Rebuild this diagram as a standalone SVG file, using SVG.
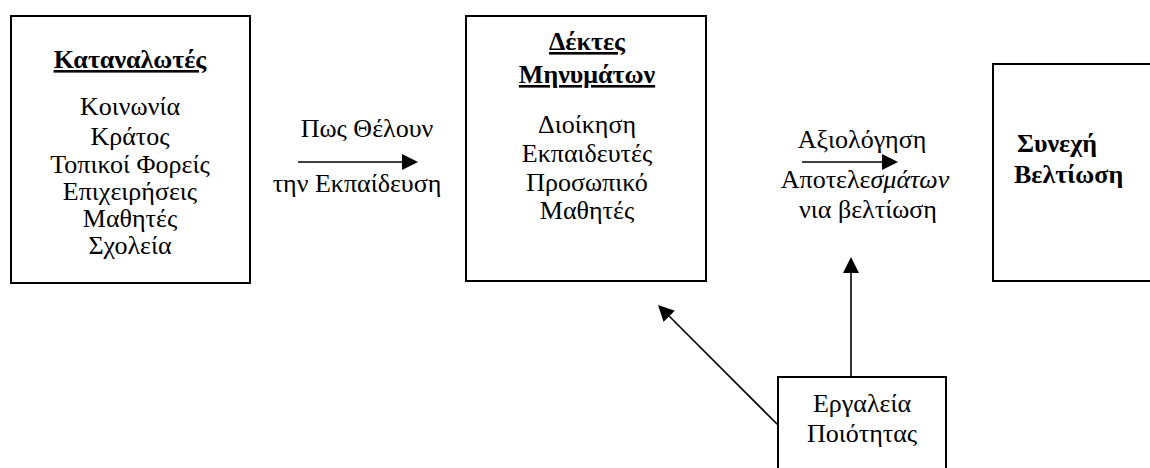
<svg xmlns="http://www.w3.org/2000/svg" width="1150" height="468" viewBox="0 0 1150 468">
  <style>
    .box { fill: #ffffff; stroke: #000000; stroke-width: 2; }
    .t { font-family: "Liberation Serif", "DejaVu Serif", serif; font-size: 26px; fill: #000000; text-anchor: middle; }
    .b { font-weight: bold; }
    .u { text-decoration: underline; }
    .ln { stroke: #000000; stroke-width: 1.6; fill: none; }
  </style>
  <defs>
    <marker id="head" markerUnits="userSpaceOnUse" markerWidth="16" markerHeight="16" refX="0" refY="8" orient="auto">
      <path d="M0,0 L16,8 L0,16 Z" fill="#000000"/>
    </marker>
  </defs>

  <rect width="1150" height="468" fill="#ffffff"/>

  <!-- consumers -->
  <g id="consumers">
    <rect class="box" x="11" y="16" width="239" height="267"/>
    <text class="t b u" x="130" y="68">Καταναλωτ&#x3AD;ς</text>
    <text class="t" x="130" y="115">Κοινων&#x3AF;α</text>
    <text class="t" x="130" y="145">Κρ&#x3AC;τος</text>
    <text class="t" x="130" y="173">Τοπικο&#x3AF; Φορε&#x3AF;ς</text>
    <text class="t" x="130" y="200">Επιχειρ&#x3AE;σεις</text>
    <text class="t" x="130" y="227">Μαθητ&#x3AD;ς</text>
    <text class="t" x="130" y="254">Σχολε&#x3AF;α</text>
  </g>

  <!-- receivers -->
  <g id="receivers">
    <rect class="box" x="466" y="16" width="240" height="265"/>
    <text class="t b u" x="587" y="50">Δ&#x3AD;κτες</text>
    <text class="t b u" x="587" y="83">Μηνυμ&#x3AC;των</text>
    <text class="t" x="587" y="133">Διο&#x3AF;κηση</text>
    <text class="t" x="587" y="162">Εκπαιδευτ&#x3AD;ς</text>
    <text class="t" x="587" y="191">Προσωπικ&#x3CC;</text>
    <text class="t" x="587" y="219">Μαθητ&#x3AD;ς</text>
  </g>

  <!-- improvement (box runs past the right edge) -->
  <g id="improvement">
    <rect class="box" x="993" y="64" width="170" height="217"/>
    <text class="t b" x="1017" y="152" style="text-anchor:start">Συνεχ&#x3AE;</text>
    <text class="t b" x="1014" y="183" style="text-anchor:start">Βελτ&#x3AF;ωση</text>
  </g>

  <!-- quality tools (box runs past the bottom edge) -->
  <g id="tools">
    <rect class="box" x="778" y="377" width="168" height="110"/>
    <text class="t" x="862" y="412">Εργαλε&#x3AF;α</text>
    <text class="t" x="862" y="442">Ποι&#x3CC;τητας</text>
  </g>

  <!-- arrow labels -->
  <g id="labels">
    <text class="t" x="367" y="137">Πως Θ&#x3AD;λουν</text>
    <text class="t" x="357" y="192">την Εκπα&#x3AF;δευση</text>
    <text class="t" x="862" y="148">Αξιολ&#x3CC;γηση</text>
    <text class="t" x="865" y="188">Αποτελε<tspan font-style="italic">σμ&#x3AC;των</tspan></text>
    <text class="t" x="868" y="218">νια βελτ&#x3AF;ωση</text>
  </g>

  <!-- connectors -->
  <g id="connectors">
    <line class="ln" x1="298" y1="162" x2="402" y2="162" marker-end="url(#head)"/>
    <line class="ln" x1="802" y1="162" x2="882" y2="162" marker-end="url(#head)"/>
    <line class="ln" x1="851" y1="377" x2="851" y2="273" marker-end="url(#head)"/>
    <line class="ln" x1="778" y1="425" x2="669.3" y2="316.3" marker-end="url(#head)"/>
  </g>
</svg>
